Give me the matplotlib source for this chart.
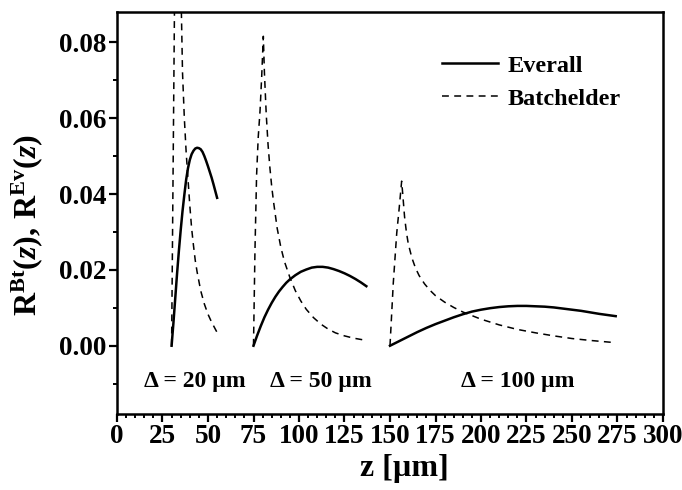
import matplotlib

matplotlib.use("Agg")

import matplotlib.pyplot as plt
from matplotlib.ticker import MultipleLocator

# ── fonts ─────────────────────────────────────────────────────────────
plt.rcParams["font.family"] = ["Liberation Serif", "DejaVu Serif"]
plt.rcParams["font.weight"] = "bold"
plt.rcParams["mathtext.fontset"] = "custom"
plt.rcParams["mathtext.rm"] = "Liberation Serif"
plt.rcParams["mathtext.bf"] = "Liberation Serif:bold"
plt.rcParams["mathtext.it"] = "Liberation Serif:italic"
plt.rcParams["mathtext.bfit"] = "Liberation Serif:bold:italic"

# ── data: three gap widths, each with an Everall and a Batchelder profile ──
gaps = [20, 50, 100]

# Δ = 20 µm
ev20_z = [30, 31, 32, 33, 34, 35, 36, 37, 38, 39, 40, 41, 42, 43, 44, 45, 46, 47,
          48, 49, 50, 51, 52, 53, 54, 55]
ev20_r = [0.0, 0.0060, 0.0125, 0.0190, 0.0250, 0.0305, 0.0355, 0.0398, 0.0438,
          0.0468, 0.0490, 0.0505, 0.0514, 0.0520, 0.0522, 0.0521, 0.0518, 0.0511,
          0.0500, 0.0487, 0.0473, 0.0458, 0.0443, 0.0426, 0.0408, 0.0390]
bt20_z = [30, 31.6, 33.5, 35.3, 36.0, 37, 38, 39, 40, 41, 42, 43, 44, 45, 46, 48,
          50, 52, 55]
bt20_r = [0.0, 0.090, 0.150, 0.090, 0.072, 0.060, 0.051, 0.044, 0.037, 0.031, 0.0265,
          0.0225, 0.0195, 0.0170, 0.0145, 0.0110, 0.0083, 0.0062, 0.0035]

# Δ = 50 µm
ev50_z = [75, 77, 79, 81, 83, 85, 87, 89, 91, 93, 95, 98, 101, 104, 107, 110, 113,
          116, 119, 122, 125, 128, 131, 134, 137]
ev50_r = [0.0, 0.0027, 0.0052, 0.0075, 0.0095, 0.0113, 0.0129, 0.0143, 0.0155,
          0.0166, 0.0175, 0.0186, 0.0195, 0.0201, 0.0206, 0.0208, 0.0208, 0.0206,
          0.0202, 0.0197, 0.0191, 0.0184, 0.0176, 0.0167, 0.0157]
bt50_z = [75, 75.8, 76.7, 77.6, 78.6, 79.5, 80.4, 81, 82, 83, 84, 85, 86, 88, 90,
          92, 95, 98, 101, 104, 108, 112, 116, 120, 125, 130, 137]
bt50_r = [0.0, 0.025, 0.045, 0.055, 0.062, 0.071, 0.0816, 0.072, 0.061, 0.053, 0.047,
          0.042, 0.038, 0.031, 0.026, 0.0222, 0.0180, 0.0145, 0.0118, 0.0096, 0.0074,
          0.0057, 0.0044, 0.0034, 0.0026, 0.0020, 0.0014]

# Δ = 100 µm
ev100_z = [150, 155, 160, 165, 170, 175, 180, 185, 190, 195, 200, 205, 210, 215,
           220, 225, 230, 235, 240, 245, 250, 255, 260, 265, 274]
ev100_r = [0.0, 0.0012, 0.0024, 0.0036, 0.0047, 0.0057, 0.0066, 0.0075, 0.0083,
           0.0090, 0.0095, 0.0099, 0.0102, 0.0104, 0.0105, 0.0105, 0.0104, 0.0103,
           0.0101, 0.0098, 0.0095, 0.0092, 0.0088, 0.0084, 0.0078]
bt100_z = [150, 151.8, 153.7, 155, 156.4, 157, 158, 159, 160, 162, 164, 166, 169,
           172, 175, 180, 185, 190, 200, 210, 220, 230, 240, 250, 260, 274]
bt100_r = [0.0, 0.0165, 0.0297, 0.0360, 0.0434, 0.0400, 0.0340, 0.0300, 0.0270,
           0.0232, 0.0205, 0.0185, 0.0163, 0.0146, 0.0132, 0.0115, 0.0101, 0.0089,
           0.0070, 0.0055, 0.0043, 0.0034, 0.0026, 0.0019, 0.0014, 0.0008]

everall = [(ev20_z, ev20_r), (ev50_z, ev50_r), (ev100_z, ev100_r)]
batchelder = [(bt20_z, bt20_r), (bt50_z, bt50_r), (bt100_z, bt100_r)]
label_z = [43, 112, 220]

# ── figure ────────────────────────────────────────────────────────────
fig = plt.figure(figsize=(6.82, 4.90), dpi=100)
ax = fig.add_axes([117 / 682, 1 - 414 / 490, (663 - 117) / 682, (414 - 12) / 490])

for i, (z, r) in enumerate(everall):
    ax.plot(z, r, color="black", lw=1.8, solid_joinstyle="round",
            label="Everall" if i == 0 else None)
for i, (z, r) in enumerate(batchelder):
    ax.plot(z, r, color="black", lw=1.1, dashes=(4.5, 3.5),
            label="Batchelder" if i == 0 else None)

for zc, d in zip(label_z, gaps):
    ax.text(zc, -0.0095, f"\u0394 = {d} \u00b5m", ha="center", va="center",
            fontsize=17, fontweight="bold")

ax.set_xlim(0, 300)
ax.set_ylim(-0.018, 0.088)
ax.xaxis.set_major_locator(MultipleLocator(25))
ax.xaxis.set_minor_locator(MultipleLocator(5))
ax.yaxis.set_major_locator(MultipleLocator(0.02))
ax.yaxis.set_minor_locator(MultipleLocator(0.01))
ax.yaxis.set_major_formatter(plt.FuncFormatter(lambda v, p: f"{v:.2f}"))

for s in ax.spines.values():
    s.set_linewidth(1.8)
ax.tick_params(which="major", direction="out", length=5.5, width=1.6,
               labelsize=19.5, pad=2)
ax.tick_params(which="minor", direction="out", length=3, width=1.4)
for lbl in ax.get_xticklabels() + ax.get_yticklabels():
    lbl.set_fontweight("bold")

ax.set_xlabel("z [\u00b5m]", fontsize=23, fontweight="bold")
ax.xaxis.set_label_coords(0.526, -0.10)
ax.set_ylabel(r"$\mathbf{R}^{\mathbf{Bt}}\mathbf{(}\mathbfit{z}\mathbf{),\,R}^{\mathbf{Ev}}"
              r"\mathbf{(}\mathbfit{z}\mathbf{)}$", fontsize=23)
ax.yaxis.set_label_coords(-0.132, 0.47)

leg = ax.legend(loc="upper left", bbox_to_anchor=(0.555, 0.948), frameon=False,
                fontsize=17.5, handlelength=2.3, handletextpad=0.4, labelspacing=0.45)
for t in leg.get_texts():
    t.set_fontweight("bold")

fig.savefig("out.png", dpi=100)
